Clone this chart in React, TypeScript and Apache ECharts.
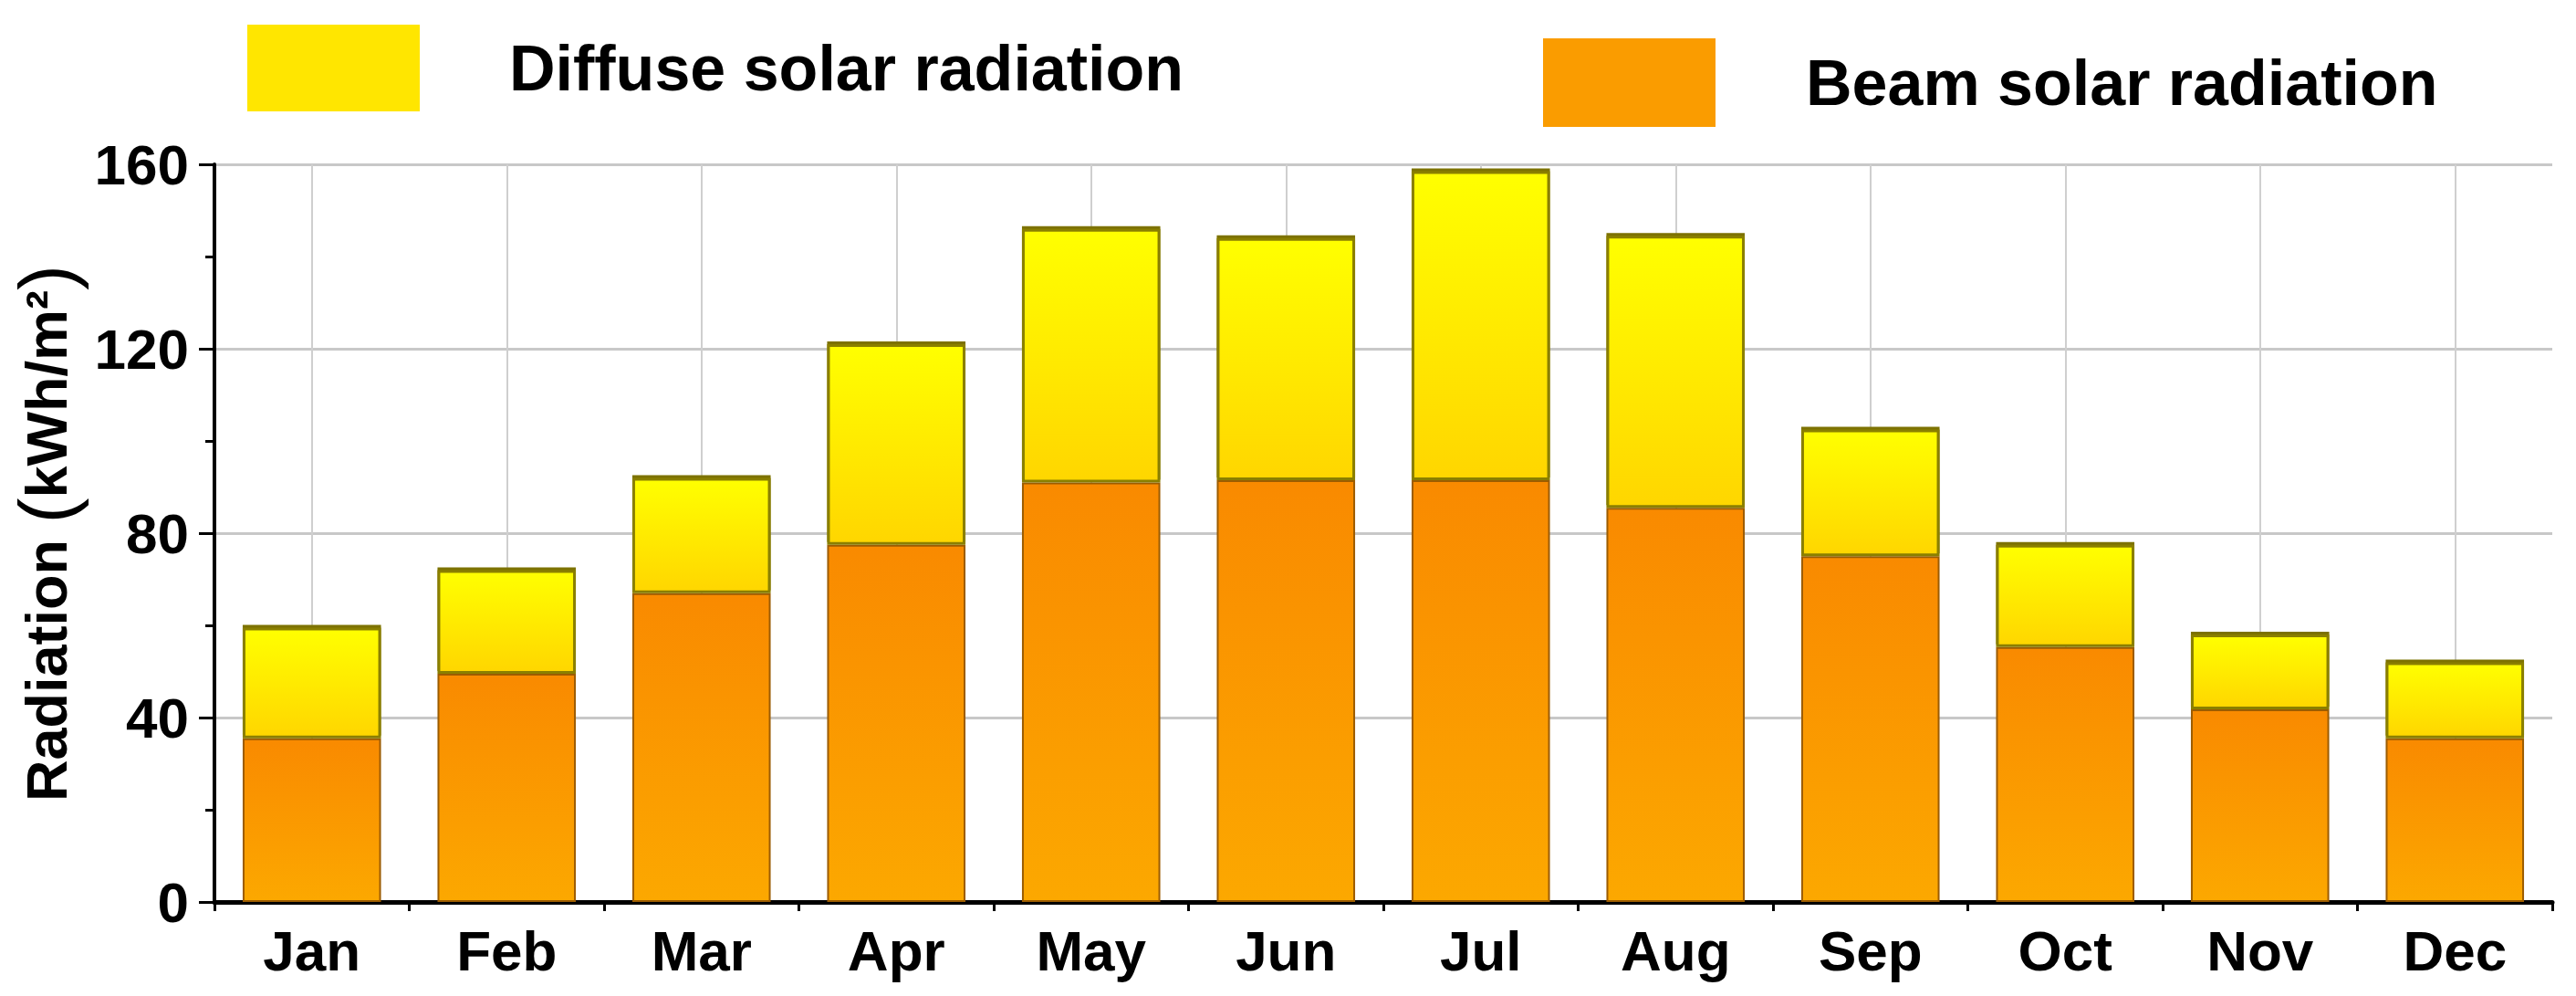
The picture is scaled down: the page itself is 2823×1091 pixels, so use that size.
import * as echarts from "echarts";
import { useEffect, useRef } from "react";

const months = ["Jan", "Feb", "Mar", "Apr", "May", "Jun", "Jul", "Aug", "Sep", "Oct", "Nov", "Dec"];
// kWh/m2
const beam = [35.5, 49.5, 67, 77.5, 91, 91.5, 91.5, 85.5, 75, 55.3, 41.8, 35.5];
const diffuse = [24, 22.5, 25, 43.5, 55, 52.5, 67, 59, 27.5, 22.2, 16.2, 16.5];
const yMin = 0;
const yMax = 160;
const yStep = 40;

const FONT = "'Liberation Sans', Arial, sans-serif";

export default function App() {
	const chartRef = useRef<HTMLDivElement>(null);

	useEffect(() => {
		if (!chartRef.current) return;
		const chart = echarts.init(chartRef.current, null, { renderer: "svg" });
		const bold = { fontFamily: FONT, fontWeight: "bold" as const, color: "#000" };

		chart.setOption({
			animation: false,
			backgroundColor: "#fff",
			legend: [
				{
					data: [{ name: "Diffuse solar radiation", itemStyle: { color: "#ffe600", borderWidth: 0, shadowBlur: 0, shadowOffsetY: 0 } }],
					left: 266,
					top: 22,
					icon: "rect",
					itemWidth: 189,
					itemHeight: 95,
					selectedMode: false,
					textStyle: { ...bold, fontSize: 70, padding: [0, 0, 0, 93] },
				},
				{
					data: [{ name: "Beam solar radiation", itemStyle: { color: "#fa9c00", borderWidth: 0 } }],
					left: 1686,
					top: 37,
					icon: "rect",
					itemWidth: 189,
					itemHeight: 97,
					selectedMode: false,
					textStyle: { ...bold, fontSize: 70, padding: [0, 0, 0, 94] },
				},
			],
			grid: { left: 235, right: 26, top: 180, bottom: 103, outerBoundsMode: "none" },
			xAxis: [
				{
					type: "category",
					data: months,
					axisLine: { lineStyle: { color: "#000", width: 5 } },
					axisTick: { alignWithLabel: true, length: 16, lineStyle: { color: "#000", width: 3 } },
					axisLabel: { ...bold, fontSize: 62, margin: 22 },
					splitLine: { show: true, alignWithLabel: true, lineStyle: { color: "#cfcfcf", width: 2 } },
				},
				{
					type: "category",
					data: months,
					position: "bottom",
					axisLine: { show: false },
					axisTick: { show: true, length: 10, lineStyle: { color: "#000", width: 3 } },
					axisLabel: { show: false },
					splitLine: { show: false },
				},
			],
			yAxis: {
				type: "value",
				min: yMin,
				max: yMax,
				interval: yStep,
				name: "{t|Radiation }{p|(}{t|kWh/m²}{p|)}",
				nameLocation: "middle",
				nameRotate: 90,
				nameGap: 102,
				nameTextStyle: {
					rich: {
						t: { ...bold, fontSize: 63 },
						p: { fontFamily: FONT, fontSize: 84, color: "#000" },
					},
				},
				axisLine: { show: true, lineStyle: { color: "#000", width: 4 } },
				axisTick: { show: true, length: 17, lineStyle: { color: "#000", width: 3 } },
				minorTick: { show: true, splitNumber: 2, length: 10, lineStyle: { color: "#000", width: 3 } },
				axisLabel: { ...bold, fontSize: 62, margin: 28 },
				splitLine: { lineStyle: { color: "#c8c8c8", width: 3 } },
			},
			series: [
				{
					name: "Beam solar radiation",
					type: "bar",
					stack: "total",
					barWidth: "71%",
					data: beam,
					itemStyle: {
						color: new echarts.graphic.LinearGradient(0, 0, 0, 1, [
							{ offset: 0, color: "#f98a00" },
							{ offset: 1, color: "#fca800" },
						]),
						borderColor: "#9c5c00",
						borderWidth: 2,
					},
				},
				{
					name: "Diffuse solar radiation",
					type: "bar",
					stack: "total",
					data: diffuse,
					itemStyle: {
						color: new echarts.graphic.LinearGradient(0, 0, 0, 1, [
							{ offset: 0, color: "#ffff00" },
							{ offset: 1, color: "#ffd600" },
						]),
						borderColor: "#8a7f00",
						borderWidth: 3,
						shadowColor: "#7d7200",
						shadowBlur: 0,
						shadowOffsetY: -3,
					},
				},
			],
		});

		return () => chart.dispose();
	}, []);

	return (
		<div
			ref={chartRef}
			style={{ position: "fixed", left: 0, top: 0, width: 2823, height: 1091 }}
		/>
	);
}
